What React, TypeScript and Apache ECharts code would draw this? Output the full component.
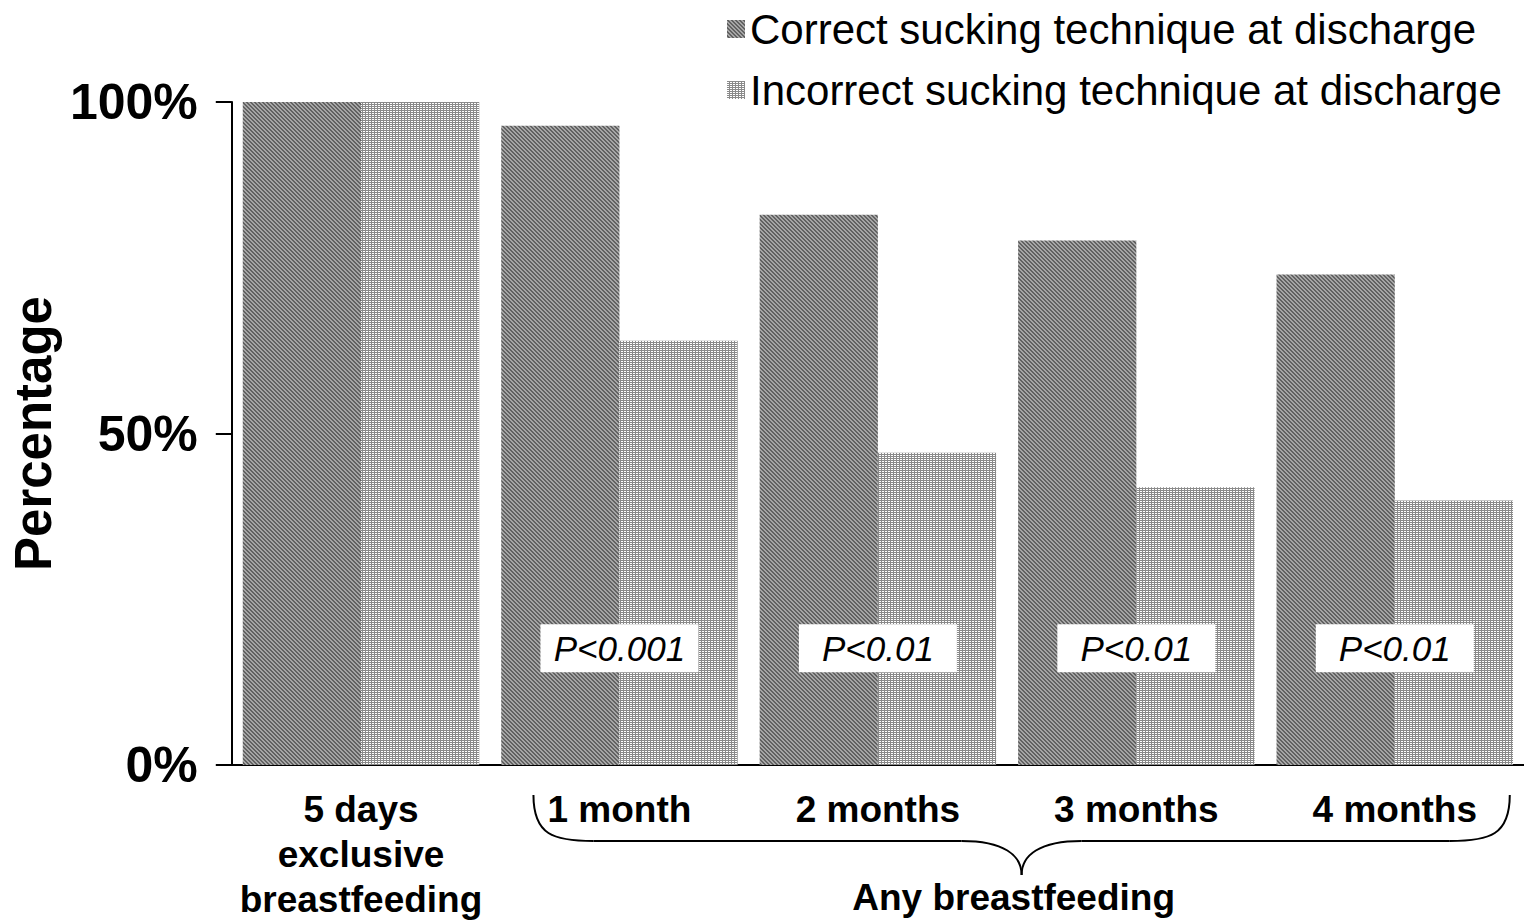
import React, { useEffect, useRef } from "react";
import * as echarts from "echarts";

const categories = ["5 days\nexclusive\nbreastfeeding", "1 month", "2 months", "3 months", "4 months"];
const seriesNames = ["Correct sucking technique at discharge", "Incorrect sucking technique at discharge"];
const correctValues = [100, 96.4, 83.0, 79.1, 74.0];
const incorrectValues = [100, 64.0, 47.1, 41.9, 39.9];
const pValueLabels = ["", "P<0.001", "P<0.01", "P<0.01", "P<0.01"];
const pValueLevel = 17.6;
const yTicks = { min: 0, max: 100, interval: 50 };
const groupLabel = "Any breastfeeding";

const FONT = "'Liberation Sans', Arial, Helvetica, sans-serif";

function makeDarkPattern(): HTMLCanvasElement {
  const c = document.createElement("canvas");
  c.width = 4;
  c.height = 4;
  const ctx = c.getContext("2d")!;
  for (let y = 0; y < 4; y++) {
    for (let x = 0; x < 4; x++) {
      ctx.fillStyle = (x - y + 8) % 4 < 2 ? "#626262" : "#a6a6a6";
      ctx.fillRect(x, y, 1, 1);
    }
  }
  return c;
}

function makeLightPattern(): HTMLCanvasElement {
  const c = document.createElement("canvas");
  c.width = 3;
  c.height = 2;
  const ctx = c.getContext("2d")!;
  ctx.fillStyle = "#8a8a8a";
  ctx.fillRect(0, 0, 3, 2);
  ctx.fillStyle = "#ffffff";
  ctx.fillRect(0, 1, 2, 1);
  return c;
}

export default function App() {
  const ref = useRef<HTMLDivElement>(null);

  useEffect(() => {
    if (!ref.current) return;
    const chart = echarts.init(ref.current, null, { renderer: "svg" });
    const dark = { image: makeDarkPattern(), repeat: "repeat" } as any;
    const light = { image: makeLightPattern(), repeat: "repeat" } as any;

    chart.setOption({
      animation: false,
      backgroundColor: "#ffffff",
      textStyle: { fontFamily: FONT },
      grid: { left: 230, right: -6, top: 102, bottom: 154, containLabel: false },
      legend: {
        data: seriesNames,
        orient: "vertical",
        left: 722,
        top: 3,
        itemWidth: 18,
        itemHeight: 18,
        itemGap: 19,
        icon: "rect",
        selectedMode: false,
        textStyle: { fontSize: 42, color: "#000", fontFamily: FONT },
      },
      xAxis: {
        type: "category",
        data: categories,
        axisLine: { show: true, lineStyle: { color: "#000", width: 2 } },
        axisTick: { show: false },
        axisLabel: {
          interval: 0,
          margin: 22,
          fontSize: 37,
          fontWeight: "bold",
          color: "#000",
          lineHeight: 45,
          fontFamily: FONT,
        },
      },
      yAxis: {
        type: "value",
        min: yTicks.min,
        max: yTicks.max,
        interval: yTicks.interval,
        name: "Percentage",
        nameLocation: "middle",
        nameGap: 161,
        nameTextStyle: { fontSize: 51, fontWeight: "bold", color: "#000", fontFamily: FONT },
        axisLine: { show: true, lineStyle: { color: "#000", width: 2 } },
        axisTick: { show: true, length: 16, lineStyle: { color: "#000", width: 2 } },
        splitLine: { show: false },
        axisLabel: {
          formatter: "{value}%",
          margin: 34,
          fontSize: 50,
          fontWeight: "bold",
          color: "#000",
          fontFamily: FONT,
        },
      },
      series: [
        {
          name: seriesNames[0],
          type: "bar",
          data: correctValues,
          barGap: "0%",
          barCategoryGap: "8.5%",
          itemStyle: { color: dark },
          silent: true,
        },
        {
          name: seriesNames[1],
          type: "bar",
          data: incorrectValues,
          itemStyle: { color: light },
          silent: true,
        },
        {
          name: "pvalues",
          type: "scatter",
          symbol: "rect",
          symbolSize: 1,
          itemStyle: { color: "#ffffff", opacity: 1 },
          silent: true,
          z: 10,
          data: pValueLabels
            .map((p, i) => ({ name: p, value: [i, pValueLevel] }))
            .filter((d) => d.name !== ""),
          label: {
            show: true,
            position: "inside",
            formatter: (p: any) => p.name,
            backgroundColor: "#ffffff",
            opacity: 1,
            width: 128,
            align: "center",
            padding: [7, 15],
            fontSize: 35,
            lineHeight: 34,
            fontStyle: "italic",
            color: "#000",
            fontFamily: FONT,
          },
        },
      ],
    });

    const cx1 = chart.convertToPixel({ xAxisIndex: 0 }, 1) as number;
    const cx4 = chart.convertToPixel({ xAxisIndex: 0 }, 4) as number;
    const y0 = chart.convertToPixel({ yAxisIndex: 0 }, 0) as number;
    const xl = cx1 - 86;
    const xr = cx4 + 115;
    const xm = (xl + xr) / 2;
    const yTop = y0 + 30;
    const yMid = y0 + 76;
    const yTip = y0 + 110;
    const hook = 60;
    const stroke = { stroke: "#000", lineWidth: 2, fill: "none" };

    chart.setOption({
      graphic: [
        {
          type: "bezierCurve",
          shape: { x1: xl, y1: yTop, cpx1: xl, cpy1: yMid - 6, cpx2: xl + 20, cpy2: yMid, x2: xl + hook, y2: yMid },
          style: stroke,
          silent: true,
        },
        { type: "line", shape: { x1: xl + hook, y1: yMid, x2: xm - hook, y2: yMid }, style: stroke, silent: true },
        {
          type: "bezierCurve",
          shape: { x1: xm - hook, y1: yMid, cpx1: xm - 18, cpy1: yMid, cpx2: xm, cpy2: yMid + 14, x2: xm, y2: yTip },
          style: stroke,
          silent: true,
        },
        {
          type: "bezierCurve",
          shape: { x1: xm, y1: yTip, cpx1: xm, cpy1: yMid + 14, cpx2: xm + 18, cpy2: yMid, x2: xm + hook, y2: yMid },
          style: stroke,
          silent: true,
        },
        { type: "line", shape: { x1: xm + hook, y1: yMid, x2: xr - hook, y2: yMid }, style: stroke, silent: true },
        {
          type: "bezierCurve",
          shape: { x1: xr - hook, y1: yMid, cpx1: xr - 20, cpy1: yMid, cpx2: xr, cpy2: yMid - 6, x2: xr, y2: yTop },
          style: stroke,
          silent: true,
        },
        {
          type: "text",
          x: xm - 8,
          y: y0 + 132,
          silent: true,
          style: {
            text: groupLabel,
            fontSize: 37,
            fontWeight: "bold",
            fill: "#000",
            fontFamily: FONT,
            textAlign: "center",
            textVerticalAlign: "middle",
          },
        },
      ],
    });

    return () => chart.dispose();
  }, []);

  return (
    <div
      ref={ref}
      style={{ position: "absolute", left: 0, top: 0, width: 1524, height: 922, background: "#fff" }}
    />
  );
}
